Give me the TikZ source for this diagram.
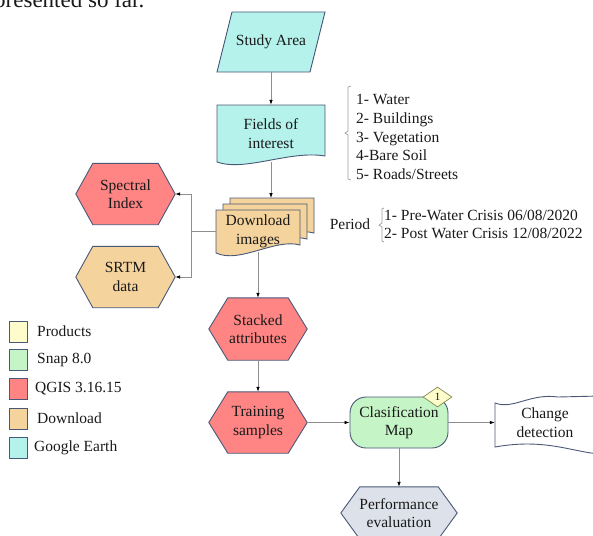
\documentclass[tikz,border=0pt]{standalone}
\usepackage{fontspec}
\setmainfont{Liberation Serif}
\usetikzlibrary{shapes.geometric,arrows.meta,backgrounds,calc}
\definecolor{cyanF}{HTML}{B4F2EB}
\definecolor{redF}{HTML}{FF8585}
\definecolor{tanF}{HTML}{F5D39D}
\definecolor{greenF}{HTML}{C5F5C6}
\definecolor{greyF}{HTML}{DDE1E9}
\definecolor{yellowF}{HTML}{FFFCCB}
\definecolor{edgeC}{HTML}{4A5877}
\definecolor{lineC}{HTML}{8E8E8E}
\definecolor{brkC}{HTML}{A0A0A0}
\newcommand\hexshape[3]{%
  \draw[shapeline,fill=#3] (#1.west) -- ([xshift=#2pt]#1.north west) -- ([xshift=-#2pt]#1.north east) -- (#1.east) -- ([xshift=-#2pt]#1.south east) -- ([xshift=#2pt]#1.south west) -- cycle;}
\begin{document}
\begin{tikzpicture}[x=1pt,y=-1pt,
  every node/.style={font=\fontsize{15.5}{18.6}\selectfont, text=black!90},
  box/.style={rectangle, inner sep=0pt, align=center},
  shapeline/.style={draw=edgeC, line width=0.9pt},
  conn/.style={draw=lineC, line width=0.8pt},
  arr/.style={conn, -{Latex[length=5pt,width=3.6pt,color=black]}},
  brk/.style={draw=brkC, line width=0.7pt},
  legbox/.style={rectangle, inner sep=0pt, minimum width=18pt, minimum height=21pt, draw=edgeC, line width=0.9pt},
  legtxt/.style={anchor=west, inner sep=0pt}
]
\useasboundingbox (0,0) rectangle (593,535);

% cut-off text of the page above
\node[anchor=base west, inner sep=0pt, font=\fontsize{23}{26}\selectfont] (ptext) at (-6,8) {presented so far.};

% ---------- nodes (text) ----------
\node[box, minimum width=80pt, minimum height=60pt] (study) at (271,42) {Study Area};
\node[box, minimum width=108pt, minimum height=57pt] (fields) at (271,133.5) {Fields of\\interest};
\node[box, minimum width=84pt, minimum height=42pt] (download) at (258,231) {Download\\images};
\coordinate (dlin) at (271,198);
\node[box, minimum width=99pt, minimum height=61pt] (spectral) at (125.5,194) {Spectral\\Index};
\node[box, minimum width=99pt, minimum height=61pt] (srtm) at (125.5,277) {SRTM\\data};
\node[box, minimum width=98pt, minimum height=62pt] (stacked) at (258,329) {Stacked\\attributes};
\node[box, minimum width=98pt, minimum height=61pt] (training) at (258,422.5) {Training\\samples};
\node[box, minimum width=116pt, minimum height=52pt] (perf) at (399,513) {Performance\\evaluation};
\node[box, minimum width=100pt, minimum height=46pt] (change) at (545,422.5) {Change\\detection};

% ---------- shapes behind text ----------
\begin{scope}[on background layer]
  \draw[shapeline, fill=cyanF] (232,12) -- (325,12) -- (310,72) -- (217,72) -- cycle;
  \draw[shapeline, fill=cyanF] (217,105) -- (325,105) -- (325,156) .. controls (290,150) and (245,172) .. (217,162) -- cycle;
  \foreach \dx/\dy in {14/-12, 7/-6, 0/0}{
    \begin{scope}[shift={(\dx,\dy)}]
      \draw[shapeline, fill=tanF] (216,210) -- (300,210) -- (300,245) .. controls (275,238) and (240,264) .. (216,253) -- cycle;
    \end{scope}
  }
  \hexshape{spectral}{17}{redF}
  \hexshape{srtm}{17}{tanF}
  \hexshape{stacked}{19}{redF}
  \hexshape{training}{19}{redF}
  \hexshape{perf}{19}{greyF}
  \draw[shapeline, fill=white] (495,403) .. controls (513,410) and (530,393) .. (558,397) -- (600,396) -- (600,454) .. controls (572,452) and (545,438) .. (495,447) -- cycle;
\end{scope}

\node[box, minimum width=98pt, minimum height=51pt, rounded corners=16pt, draw=edgeC, line width=0.9pt, fill=greenF] (clasif) at (399,422.5) {Clasification\\Map};
\node[diamond, draw=edgeC!70!yellow, line width=0.7pt, fill=yellowF, inner sep=0pt, minimum width=29pt, minimum height=20pt, font=\fontsize{11}{12}\selectfont] (badge) at (437.5,397) {1};

% ---------- annotations ----------
\node[anchor=west, inner sep=0pt, align=left] (classes) at (356,137) {1- Water\\2- Buildings\\3- Vegetation\\4-Bare Soil\\5- Roads/Streets};
\draw[brk] (351,86) -- (348,87) -- (348,131) -- (345,133) -- (348,135) -- (348,179) -- (351,180);
\node[inner sep=0pt] (period) at (350,224.5) {Period};
\node[anchor=west, inner sep=0pt, align=left] (periods) at (384,224.5) {1- Pre-Water Crisis 06/08/2020\\2- Post Water Crisis 12/08/2022};
\draw[brk] (384,208) -- (382,209) -- (382,223) -- (379,225) -- (382,227) -- (382,241) -- (384,242);

% ---------- connectors ----------
\draw[arr] (study.south) -- (fields.north);
\draw[arr] (fields.south) -- (dlin);
\draw[conn] (download.west) -- ++(-24,0) coordinate (jn);
\draw[arr] (jn) |- (spectral.east);
\draw[arr] (jn) |- (srtm.east);
\draw[arr] (download.south) -- (stacked.north);
\draw[arr] (stacked.south) -- (training.north);
\draw[arr] (training.east) -- (clasif.west);
\draw[arr] (clasif.east) -- (change.west);
\draw[arr] (clasif.south) -- (perf.north);

% ---------- legend ----------
\node[legbox, fill=yellowF] (l1) at (18,331.5) {};
\node[legbox, fill=greenF] (l2) at (18,360) {};
\node[legbox, fill=redF] (l3) at (18,389) {};
\node[legbox, fill=tanF] (l4) at (18,418.5) {};
\node[legbox, fill=cyanF] (l5) at (18,447.5) {};
\node[legtxt] (t1) at (37,331.5) {Products};
\node[legtxt] (t2) at (37,360) {Snap 8.0};
\node[legtxt] (t3) at (35,389) {QGIS 3.16.15};
\node[legtxt] (t4) at (37,418.5) {Download};
\node[legtxt] (t5) at (34,447.5) {Google Earth};
\end{tikzpicture}
\end{document}
